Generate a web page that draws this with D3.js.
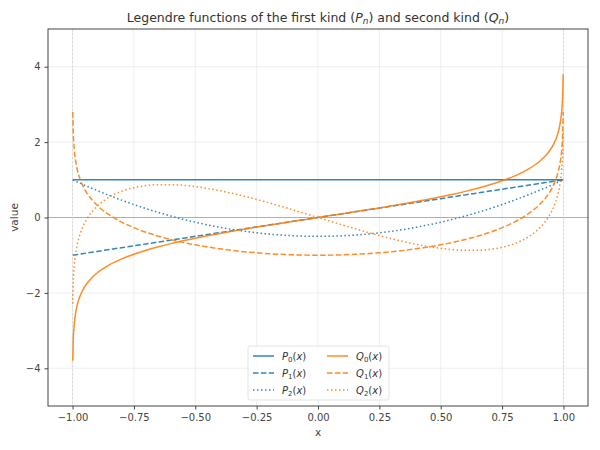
<!DOCTYPE html>
<html>
<head>
<meta charset="utf-8">
<script src="https://cdn.jsdelivr.net/npm/d3@7"></script>
<style>
  body { margin: 0; background: #fff; }
  text { font-family: "DejaVu Sans", sans-serif; }
</style>
</head>
<body>
<svg id="chart" width="600" height="450"></svg>
<script>
// sample points on x, denser near the endpoints
const xs = [-0.999, -0.997, -0.993, -0.985, -0.975, -0.96, -0.94, -0.92, -0.9, -0.85, -0.8, -0.75, -0.7, -0.65,
  -0.6, -0.55, -0.5, -0.45, -0.4, -0.35, -0.3, -0.25, -0.2, -0.15, -0.1, -0.05, 0,
  0.05, 0.1, 0.15, 0.2, 0.25, 0.3, 0.35, 0.4, 0.45, 0.5, 0.55, 0.6, 0.65, 0.7, 0.75, 0.8, 0.85, 0.9,
  0.92, 0.94, 0.96, 0.975, 0.985, 0.993, 0.997, 0.999];

const p0 = [1, 1, 1, 1, 1, 1, 1, 1, 1, 1, 1, 1, 1, 1, 1, 1, 1, 1, 1, 1, 1, 1, 1, 1, 1, 1, 1,
  1, 1, 1, 1, 1, 1, 1, 1, 1, 1, 1, 1, 1, 1, 1, 1, 1, 1, 1, 1, 1, 1, 1, 1, 1, 1];

const p1 = [-0.999, -0.997, -0.993, -0.985, -0.975, -0.96, -0.94, -0.92, -0.9, -0.85, -0.8, -0.75, -0.7, -0.65,
  -0.6, -0.55, -0.5, -0.45, -0.4, -0.35, -0.3, -0.25, -0.2, -0.15, -0.1, -0.05, 0,
  0.05, 0.1, 0.15, 0.2, 0.25, 0.3, 0.35, 0.4, 0.45, 0.5, 0.55, 0.6, 0.65, 0.7, 0.75, 0.8, 0.85, 0.9,
  0.92, 0.94, 0.96, 0.975, 0.985, 0.993, 0.997, 0.999];

const p2 = [0.997, 0.991, 0.979, 0.955, 0.926, 0.882, 0.825, 0.770, 0.715, 0.584, 0.46, 0.344, 0.235, 0.134,
  0.04, -0.046, -0.125, -0.196, -0.26, -0.316, -0.365, -0.406, -0.44, -0.466, -0.485, -0.496, -0.5,
  -0.496, -0.485, -0.466, -0.44, -0.406, -0.365, -0.316, -0.26, -0.196, -0.125, -0.046, 0.04, 0.134, 0.235, 0.344, 0.46, 0.584, 0.715,
  0.770, 0.825, 0.882, 0.926, 0.955, 0.979, 0.991, 0.997];

const q0 = [-3.800, -3.250, -2.826, -2.443, -2.185, -1.946, -1.738, -1.589, -1.472, -1.256, -1.099, -0.973, -0.867, -0.775,
  -0.693, -0.618, -0.549, -0.485, -0.424, -0.365, -0.310, -0.255, -0.203, -0.151, -0.100, -0.050, 0,
  0.050, 0.100, 0.151, 0.203, 0.255, 0.310, 0.365, 0.424, 0.485, 0.549, 0.618, 0.693, 0.775, 0.867, 0.973, 1.099, 1.256, 1.472,
  1.589, 1.738, 1.946, 2.185, 2.443, 2.826, 3.250, 3.800];

const q1 = [2.796, 2.241, 1.806, 1.406, 1.130, 0.868, 0.634, 0.462, 0.325, 0.068, -0.121, -0.270, -0.393, -0.496,
  -0.584, -0.660, -0.725, -0.782, -0.831, -0.872, -0.907, -0.936, -0.959, -0.977, -0.990, -0.998, -1,
  -0.998, -0.990, -0.977, -0.959, -0.936, -0.907, -0.872, -0.831, -0.782, -0.725, -0.660, -0.584, -0.496, -0.393, -0.270, -0.121, 0.068, 0.325,
  0.462, 0.634, 0.868, 1.130, 1.406, 1.806, 2.241, 2.796];

const q2 = [-2.290, -1.726, -1.277, -0.856, -0.560, -0.277, -0.025, 0.157, 0.297, 0.542, 0.695, 0.791, 0.846, 0.871,
  0.872, 0.854, 0.819, 0.770, 0.710, 0.641, 0.563, 0.479, 0.389, 0.295, 0.199, 0.100, 0,
  -0.100, -0.199, -0.295, -0.389, -0.479, -0.563, -0.641, -0.710, -0.770, -0.819, -0.854, -0.872, -0.871, -0.846, -0.791, -0.695, -0.542, -0.297,
  -0.157, 0.025, 0.277, 0.560, 0.856, 1.277, 1.726, 2.290];

const xTicks = [-1, -0.75, -0.5, -0.25, 0, 0.25, 0.5, 0.75, 1];
const yTicks = [-4, -2, 0, 2, 4];

const blue = '#1f77b4';
const orange = '#ff7f0e';
const dashed = '5.5,2.4';
const dotted = '1.5,2.5';

const series = [
  { name: 'P', n: 0, values: p0, color: blue, dash: null },
  { name: 'P', n: 1, values: p1, color: blue, dash: dashed },
  { name: 'P', n: 2, values: p2, color: blue, dash: dotted },
  { name: 'Q', n: 0, values: q0, color: orange, dash: null },
  { name: 'Q', n: 1, values: q1, color: orange, dash: dashed },
  { name: 'Q', n: 2, values: q2, color: orange, dash: dotted },
];

const margin = { top: 29, right: 12, bottom: 44, left: 48 };
const width = 600, height = 450;

const svg = d3.select('#chart');

const x = d3.scaleLinear().domain([-1.1, 1.1]).range([margin.left, width - margin.right]);
const y = d3.scaleLinear().domain([-5, 5]).range([height - margin.bottom, margin.top]);

svg.append('defs').append('clipPath').attr('id', 'clip')
  .append('rect')
  .attr('x', margin.left).attr('y', margin.top)
  .attr('width', x.range()[1] - margin.left)
  .attr('height', y.range()[0] - margin.top);

// Grid

const grid = svg.append('g').attr('stroke', '#ebebeb').attr('stroke-width', 0.8);
grid.selectAll('.gx').data(xTicks).join('line')
  .attr('x1', d => x(d)).attr('x2', d => x(d))
  .attr('y1', margin.top).attr('y2', y.range()[0]);
grid.selectAll('.gy').data(yTicks).join('line')
  .attr('x1', margin.left).attr('x2', x.range()[1])
  .attr('y1', d => y(d)).attr('y2', d => y(d));

// Reference lines: y = 0 and the interval ends x = ±1

svg.append('line')
  .attr('x1', margin.left).attr('x2', x.range()[1])
  .attr('y1', y(0)).attr('y2', y(0))
  .attr('stroke', '#b0b0b0').attr('stroke-width', 1);

svg.selectAll('.edge').data([-1, 1]).join('line')
  .attr('x1', d => x(d)).attr('x2', d => x(d))
  .attr('y1', margin.top).attr('y2', y.range()[0])
  .attr('stroke', '#d6d6d6').attr('stroke-width', 0.8)
  .attr('stroke-dasharray', '2.5,1.5');

// Curves

const line = d3.line()
  .x((d, i) => x(xs[i]))
  .y(d => y(d))
  .curve(d3.curveMonotoneX);

svg.append('g').attr('clip-path', 'url(#clip)')
  .selectAll('path').data(series).join('path')
  .attr('d', d => line(d.values))
  .attr('fill', 'none')
  .attr('stroke', d => d.color)
  .attr('stroke-opacity', 0.9)
  .attr('stroke-width', 1.5)
  .attr('stroke-dasharray', d => d.dash);

// Axes

const fmtX = v => d3.format('.2f')(v).replace('-', '\u2212');
const fmtY = v => String(v).replace('-', '\u2212');

const xAxis = svg.append('g')
  .attr('transform', `translate(0,${y.range()[0]})`)
  .call(d3.axisBottom(x).tickValues(xTicks).tickFormat(fmtX).tickSize(3.5).tickPadding(4));

const yAxis = svg.append('g')
  .attr('transform', `translate(${margin.left},0)`)
  .call(d3.axisLeft(y).tickValues(yTicks).tickFormat(fmtY).tickSize(3.5).tickPadding(4));

[xAxis, yAxis].forEach(a => {
  a.select('.domain').remove();
  a.selectAll('line').attr('stroke', '#444');
  a.selectAll('text').attr('fill', '#444').style('font-size', '10px')
    .style('font-family', '"DejaVu Sans", sans-serif');
});

// Frame

svg.append('rect')
  .attr('x', margin.left).attr('y', margin.top)
  .attr('width', x.range()[1] - margin.left)
  .attr('height', y.range()[0] - margin.top)
  .attr('fill', 'none').attr('stroke', '#444').attr('stroke-width', 1);

// Labels

svg.append('text')
  .attr('x', (margin.left + x.range()[1]) / 2).attr('y', 436)
  .attr('text-anchor', 'middle').attr('fill', '#444').style('font-size', '10.5px')
  .text('x');

svg.append('text')
  .attr('transform', `translate(18,${(margin.top + y.range()[0]) / 2}) rotate(-90)`)
  .attr('text-anchor', 'middle').attr('fill', '#444').style('font-size', '10.5px')
  .text('value');

const title = svg.append('text')
  .attr('x', (margin.left + x.range()[1]) / 2).attr('y', 22)
  .attr('text-anchor', 'middle').attr('fill', '#333').style('font-size', '12.5px');
title.append('tspan').text('Legendre functions of the first kind (');
title.append('tspan').attr('font-style', 'italic').text('P');
title.append('tspan').attr('font-style', 'italic').attr('font-size', '9px').attr('dy', 2).text('n');
title.append('tspan').attr('dy', -2).text(') and second kind (');
title.append('tspan').attr('font-style', 'italic').text('Q');
title.append('tspan').attr('font-style', 'italic').attr('font-size', '9px').attr('dy', 2).text('n');
title.append('tspan').attr('dy', -2).text(')');

// Legend

const legend = svg.append('g').attr('transform', 'translate(248,346)');
legend.append('rect')
  .attr('width', 141).attr('height', 54).attr('rx', 2)
  .attr('fill', '#fff').attr('fill-opacity', 0.85)
  .attr('stroke', '#dcdcdc').attr('stroke-width', 0.8);

const item = legend.selectAll('.item').data(series).join('g')
  .attr('transform', (d, i) => `translate(${i < 3 ? 5 : 79},${10 + (i % 3) * 17})`);
item.append('line')
  .attr('x1', 0).attr('x2', 21)
  .attr('stroke', d => d.color).attr('stroke-opacity', 0.9)
  .attr('stroke-width', 1.5).attr('stroke-dasharray', d => d.dash);
const lt = item.append('text')
  .attr('x', 29).attr('y', 3.5).attr('fill', '#333').style('font-size', '10px');
lt.append('tspan').attr('font-style', 'italic').text(d => d.name);
lt.append('tspan').attr('font-size', '7px').attr('dy', 2).text(d => d.n);
lt.append('tspan').attr('dy', -2).text('(');
lt.append('tspan').attr('font-style', 'italic').text('x');
lt.append('tspan').text(')');
</script>
</body>
</html>
